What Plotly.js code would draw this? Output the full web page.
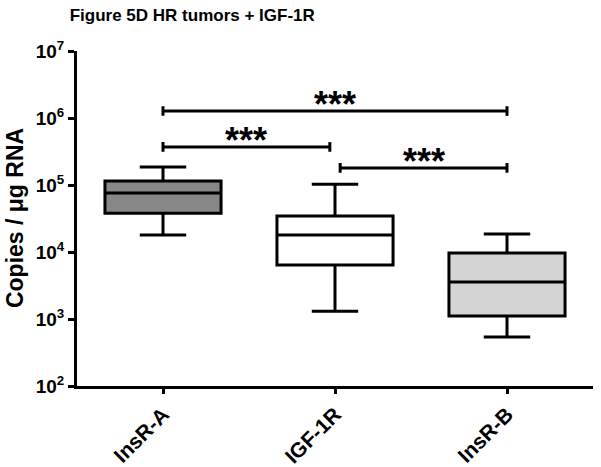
<!DOCTYPE html>
<html>
<head>
<meta charset="utf-8">
<script src="https://cdn.plot.ly/plotly-3.0.1.min.js"></script>
<style>
html,body{margin:0;padding:0;background:#fff;}
#chart{width:601px;height:467px;}
</style>
</head>
<body>
<div id="chart"></div>
<script>
// Data (copies / µg RNA)
const categories = ["InsR-A", "IGF-1R", "InsR-B"];
const lowerWhisker = [1.8e4, 1.3e3, 5.4e2];
const q1Values = [3.8e4, 6.4e3, 1.11e3];
const medianValues = [7.6e4, 1.8e4, 3.56e3];
const q3Values = [1.15e5, 3.45e4, 9.7e3];
const upperWhisker = [1.86e5, 1.03e5, 1.86e4];
const boxFills = ["#878787", "#ffffff", "#d4d4d4"];

// Significance comparisons: [from index, to index, bracket height]
const compFrom = [0, 0, 1.03];
const compTo = [2, 0.97, 2];
const compHeight = [1.27e6, 3.7e5, 1.8e5];
const compLabel = ["***", "***", "***"];

const yTickVals = [1e2, 1e3, 1e4, 1e5, 1e6, 1e7];
const yTickText = ["10<sup>2</sup>", "10<sup>3</sup>", "10<sup>4</sup>", "10<sup>5</sup>", "10<sup>6</sup>", "10<sup>7</sup>"];

const FONT = "Liberation Sans, Arial, sans-serif";

const traces = categories.map((c, i) => ({
  type: "box",
  x: [i],
  q1: [q1Values[i]],
  median: [medianValues[i]],
  q3: [q3Values[i]],
  lowerfence: [lowerWhisker[i]],
  upperfence: [upperWhisker[i]],
  width: 0.675,
  whiskerwidth: 0.4,
  fillcolor: boxFills[i],
  line: { color: "#000000", width: 3 },
  boxpoints: false,
  hoverinfo: "skip",
  showlegend: false
}));

// Brackets as line traces (with small end ticks)
const annotations = [];
for (let k = 0; k < compFrom.length; k++) {
  const y = compHeight[k];
  const tickF = 1.18;
  traces.push({
    type: "scatter", mode: "lines",
    x: [compFrom[k], compFrom[k], compFrom[k], null, compFrom[k], compTo[k], null, compTo[k], compTo[k]],
    y: [y / tickF, y * tickF, y, null, y, y, null, y / tickF, y * tickF],
    line: { color: "#000000", width: 3 },
    hoverinfo: "skip", showlegend: false
  });
  annotations.push({
    x: (compFrom[k] + compTo[k]) / 2, y: Math.log10(y),
    xref: "x", yref: "y",
    text: "<b>" + compLabel[k] + "</b>",
    showarrow: false, yanchor: "bottom", yshift: -16,
    font: { family: FONT, size: 36, color: "#000" }
  });
}

annotations.push({
  xref: "paper", yref: "paper", x: -0.121, y: 0.5,
  xanchor: "center", yanchor: "middle", textangle: -90,
  text: "<b>Copies / \u03bcg RNA</b>", showarrow: false,
  font: { family: FONT, size: 23, color: "#000" }
});

const layout = {
  width: 601, height: 467,
  margin: { l: 77, r: 8, t: 51, b: 81 },
  paper_bgcolor: "#ffffff", plot_bgcolor: "#ffffff",
  title: {
    text: "<b>Figure 5D HR tumors + IGF-1R</b>",
    x: 0.116, xanchor: "left", y: 0.967, yanchor: "middle",
    font: { family: FONT, size: 17, color: "#000" }
  },
  xaxis: {
    range: [-0.5, 2.5],
    tickvals: [0, 1, 2], ticktext: categories,
    tickangle: -45,
    showline: true, linecolor: "#000", linewidth: 3,
    ticks: "outside", ticklen: 5, tickwidth: 3, tickcolor: "#000",
    showgrid: false, zeroline: false,
    tickfont: { family: FONT, size: 21, color: "#000", weight: "bold" }
  },
  yaxis: {
    type: "log", range: [2, 7],
    tickvals: yTickVals, ticktext: yTickText,
    showline: true, linecolor: "#000", linewidth: 3,
    ticks: "outside", ticklen: 6, tickwidth: 3, tickcolor: "#000",
    showgrid: false, zeroline: false,
    tickfont: { family: FONT, size: 19, color: "#000", weight: "bold" }
  },
  annotations: annotations
};

Plotly.newPlot("chart", traces, layout, { displayModeBar: false, staticPlot: true });
</script>
</body>
</html>
